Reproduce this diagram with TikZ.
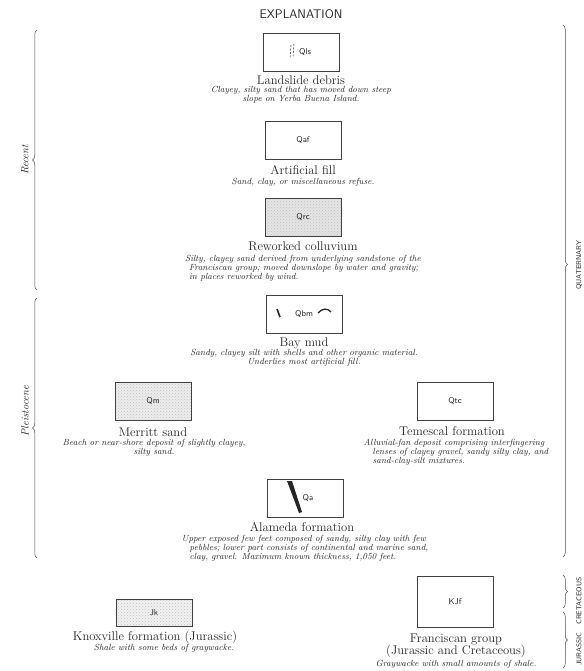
\documentclass[tikz,border=0pt]{standalone}
\usetikzlibrary{decorations.pathreplacing,patterns}

\tikzset{
  unitbox/.style={draw=black!75,line width=0.6pt,minimum width=76pt,minimum height=38pt,
    inner sep=0pt,font=\fontsize{8.5}{9}\sffamily},
  stipple/.style={preaction={fill=black!#1},pattern=crosshatch dots,pattern color=black!25},
  unitname/.style={inner sep=0pt,font=\fontsize{12.6}{12.5}\selectfont},
  unitdesc/.style={inner sep=0pt,align=center,font=\fontsize{8.9}{9}\itshape},
  agebrace/.style={draw=black!70,line width=0.5pt,decorate,decoration={brace,amplitude=4.5pt,aspect=#1}},
  agebrace/.default=0.5,
  epochlabel/.style={inner sep=0pt,rotate=90,font=\fontsize{10.5}{12}\itshape},
  periodlabel/.style={inner sep=0pt,rotate=90,font=\fontsize{7}{8}\sffamily}
}

\begin{document}
\begin{tikzpicture}[x=1pt,y=-1pt,color=black!85]
    \useasboundingbox (0,0) rectangle (583,671);
    \node[inner sep=0pt,font=\fontsize{12.5}{13}\sffamily] (title) at (301,14) {EXPLANATION};

    \node[unitbox] (qls) at (301,52) {\hspace*{8pt}Qls};
    \draw[dash pattern=on 2pt off 1.5pt,line width=0.5pt] (291,45) -- (290,59);
    \draw[dash pattern=on 2pt off 1.5pt,line width=0.5pt] (294,44) -- (293,58);
    \node[unitname] (qlsname) at (301,80) {Landslide debris};
    \node[unitdesc] (qlsdesc) at (301,95) {Clayey, silty sand that has moved down steep\\slope on Yerba Buena Island.};

    \node[unitbox] (qaf) at (303,140) {Qaf};
    \node[unitname] (qafname) at (303,170) {Artificial fill};
    \node[unitdesc] (qafdesc) at (303,182) {Sand, clay, or miscellaneous refuse.};

    \node[unitbox,stipple=10] (qrc) at (303,217) {Qrc};
    \node[unitname] (qrcname) at (303,246) {Reworked colluvium};
    \node[unitdesc,align=left] (qrcdesc) at (303,268) {Silty, clayey sand derived from underlying sandstone of the\\
      \hspace*{4pt}Franciscan group; moved downslope by water and gravity;\\
      \hspace*{4pt}in places reworked by wind.};

    \node[unitbox] (qbm) at (304,314) {Qbm};
    \draw[line width=1.6pt] (277,309) -- (280,317);
    \draw[line width=1.3pt] (318,313) .. controls (322,308) and (328,308) .. (331,312);
    \node[unitname] (qbmname) at (304,343) {Bay mud};
    \node[unitdesc] (qbmdesc) at (304,358) {Sandy, clayey silt with shells and other organic material.\\Underlies most artificial fill.};

    \node[unitbox,stipple=7] (qm) at (153,401) {Qm};
    \node[unitname] (qmname) at (153,432) {Merritt sand};
    \node[unitdesc] (qmdesc) at (154,448) {Beach or near-shore deposit of slightly clayey,\\silty sand.};

    \node[unitbox] (qtc) at (455,401) {Qtc};
    \node[unitname] (qtcname) at (452,431) {Temescal formation};
    \node[unitdesc,align=left] (qtcdesc) at (456,452) {Alluvial-fan deposit comprising interfingering\\
      \hspace*{9pt}lenses of clayey gravel, sandy silty clay, and\\
      \hspace*{9pt}sand-clay-silt mixtures.};

    \node[unitbox] (qa) at (305,498) {\hspace*{6pt}Qa};
    \fill (287,481) -- (292,481) -- (302,512) -- (299,513) -- cycle;
    \node[unitname] (qaname) at (302,527) {Alameda formation};
    \node[unitdesc,align=left] (qadesc) at (305,548) {Upper exposed few feet composed of sandy, silty clay with few\\
      \hspace*{8pt}pebbles; lower part consists of continental and marine sand,\\
      \hspace*{8pt}clay, gravel. Maximum known thickness, 1,050 feet.};

    \node[unitbox,stipple=5,minimum height=27pt] (jk) at (154,613) {Jk};
    \node[unitname] (jkname) at (155,637) {Knoxville formation (Jurassic)};
    \node[unitdesc] (jkdesc) at (164,648) {Shale with some beds of graywacke.};

    \node[unitbox,minimum height=51pt] (kjf) at (455,602) {KJf};
    \node[unitname,align=center] (kjfname) at (456,646) {Franciscan group\\(Jurassic and Cretaceous)};
    \node[unitdesc] (kjfdesc) at (456,664) {Graywacke with small amounts of shale.};

    \draw[agebrace] (37,290) -- (37,30);
    \node[epochlabel] (recent) at (25,160) {Recent};
    \draw[agebrace] (37,558) -- (37,298);
    \node[epochlabel] (pleist) at (25,411) {Pleistocene};

    \draw[agebrace=0.45] (563,25) -- (563,557);
    \node[periodlabel] (quat) at (579,265) {QUATERNARY};
    \draw[agebrace] (563,575) -- (563,608);
    \node[periodlabel] (cret) at (579,601) {CRETACEOUS};
    \draw[agebrace] (563,612) -- (563,668);
    \node[periodlabel] (jur) at (579,649) {JURASSIC};
\end{tikzpicture}
\end{document}
